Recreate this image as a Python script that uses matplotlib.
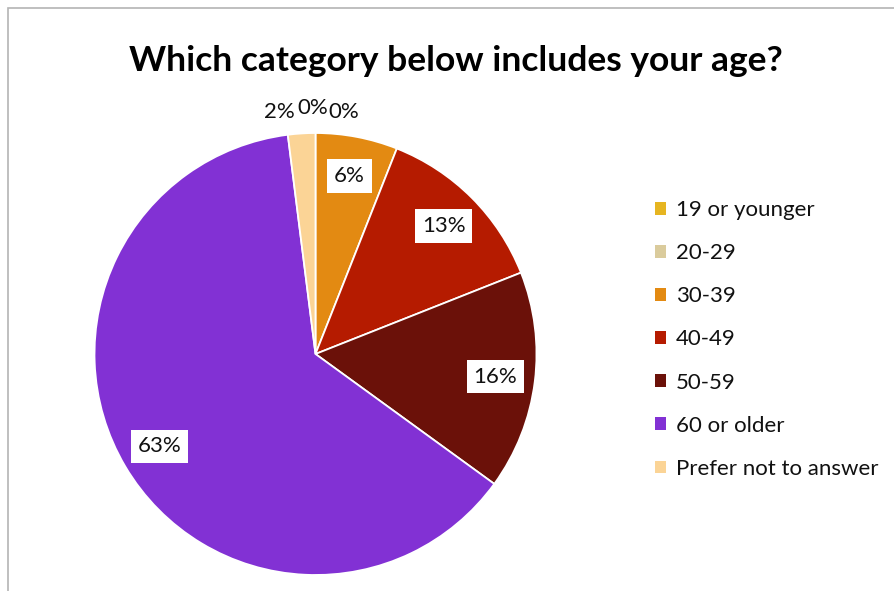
import matplotlib
matplotlib.use("Agg")
import matplotlib.pyplot as plt
from matplotlib.patches import Patch, Rectangle
import numpy as np

plt.rcParams['font.family'] = ['Lato', 'DejaVu Sans']

categories = ["19 or younger", "20-29", "30-39", "40-49", "50-59",
              "60 or older", "Prefer not to answer"]
shares = [0, 0, 6, 13, 16, 63, 2]
colors = ["#E6B521", "#DACB9C", "#E38A12", "#B51B00", "#6B1109",
          "#8231D4", "#FBD496"]

# labels of tiny slices sit outside the pie; nudge them apart (pixels)
outside_nudge = {0: (-3, 3), 1: (28, -1), 6: (-21, -1)}

W, H = 894, 591
fig = plt.figure(figsize=(W / 100, H / 100), dpi=100)
fig.patch.set_facecolor("white")

# chart frame (cut off at the right and bottom edges)
fig.patches.append(Rectangle((8 / W, -0.05), 1.2, 1.05 - 8 / H,
                             transform=fig.transFigure, fill=False,
                             edgecolor="#B4B4B4", linewidth=1.2))

cx, cy, r = 315.5, 354, 221
ax = fig.add_axes([(cx - r) / W, (H - cy - r) / H, 2 * r / W, 2 * r / H])

wedges, _ = ax.pie(shares, colors=colors, startangle=90, counterclock=False,
                   radius=1, wedgeprops=dict(edgecolor="white", linewidth=1.3))
ax.set_xlim(-1, 1)
ax.set_ylim(-1, 1)
ax.axis("off")

lbl_size = 16
for i, (w, v) in enumerate(zip(wedges, shares)):
    mid = np.deg2rad((w.theta1 + w.theta2) / 2)
    if i in outside_nudge:
        rr = 1.10
        ax.annotate(f"{v}%", (rr * np.cos(mid), rr * np.sin(mid)),
                    xytext=outside_nudge[i], textcoords="offset pixels",
                    ha="center", va="center", fontsize=lbl_size, color="#111111",
                    bbox=dict(boxstyle="square,pad=0.05", fc="white", ec="none"),
                    annotation_clip=False, zorder=5 + i)
    else:
        rr = 0.82
        ax.text(rr * np.cos(mid), rr * np.sin(mid), f"{v}%",
                ha="center", va="center", fontsize=lbl_size, color="#111111",
                bbox=dict(boxstyle="square,pad=0.3", fc="white", ec="none"),
                zorder=5)

fig.text(455.5 / W, 1 - 71 / H, "Which category below includes your age?",
         ha="center", va="baseline", fontsize=25.5, fontweight="bold",
         color="black")

handles = [Patch(facecolor=c, edgecolor="none") for c in colors]
fig.legend(handles, categories, loc="upper left",
           bbox_to_anchor=(644 / W, 1 - 189 / H), frameon=False,
           fontsize=16, handlelength=0.5, handleheight=0.5,
           handletextpad=0.45, labelspacing=1.04, borderpad=0,
           labelcolor="#111111")

fig.savefig("out.png", dpi=100, facecolor="white")
